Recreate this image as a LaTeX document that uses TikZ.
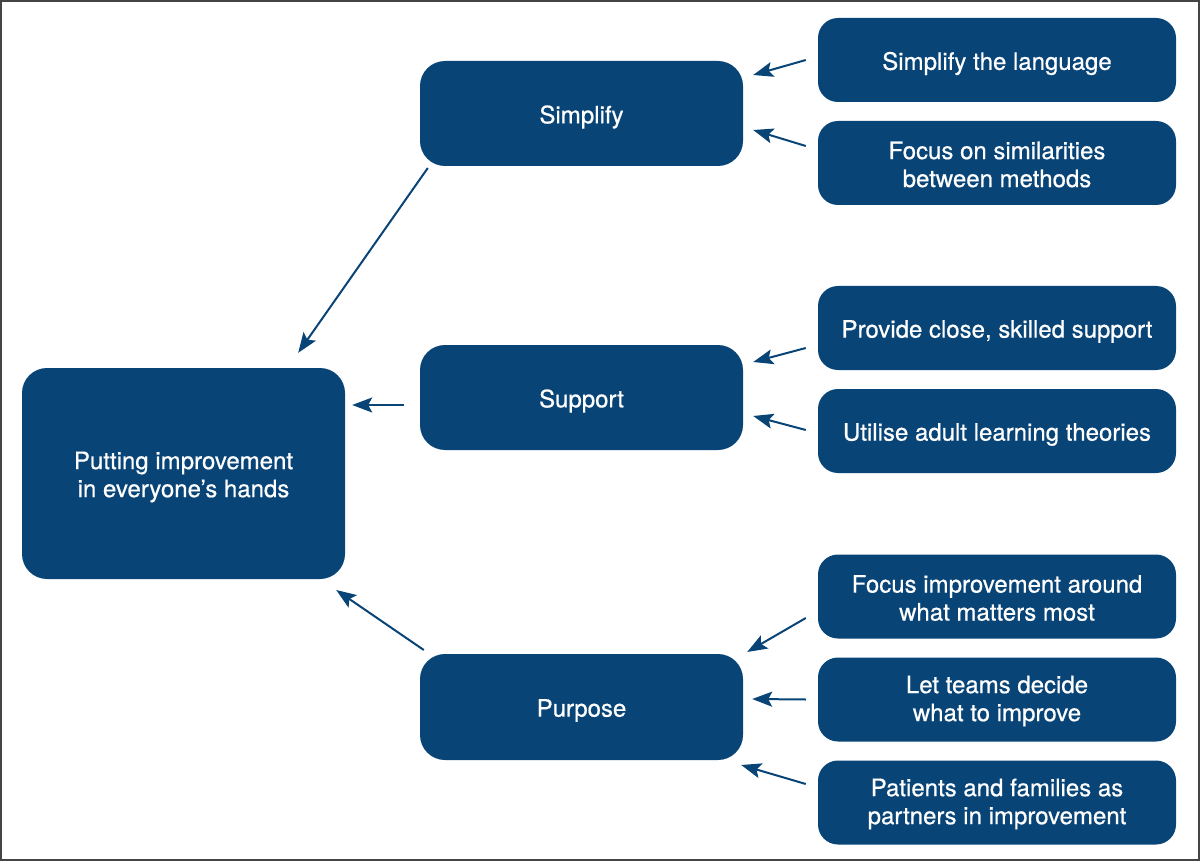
\documentclass[tikz,border=0pt]{standalone}
\usepackage{fontspec}
\setmainfont{TeX Gyre Heros}
\newfontfamily\medfont{TeX Gyre Heros}[FakeBold=0.6]
\usetikzlibrary{arrows.meta,calc}
\definecolor{nhsblue}{HTML}{094477}
\definecolor{framegrey}{HTML}{444444}
\begin{document}
\begin{tikzpicture}[x=1pt,y=-1pt,
  box/.style={fill=nhsblue,rounded corners=25pt,inner sep=0pt,minimum width=323pt},
  rbox/.style={box,rounded corners=20pt,minimum width=358pt,minimum height=84pt},
  lbl/.style={text=white,align=center,font=\medfont\fontsize{24}{28}\selectfont,inner sep=0pt,yshift=-3.5pt},
  lbltwo/.style={lbl,yshift=2pt},
  arr/.style={draw=nhsblue,line width=2pt,-{Stealth[length=20pt,width=15pt,inset=4pt]}}]
\useasboundingbox (0,0) rectangle (1200,861);
\draw[framegrey,line width=2pt] (1,1) rectangle (1199,860);
\node[box,minimum height=211pt,label={[lbl]center:{Putting improvement\\in everyone’s hands}}] (main) at (183.5,473.5) {};
\node[box,minimum height=105pt,label={[lbl]center:Simplify}] (simplify) at (581.5,113.5) {};
\node[box,minimum height=105pt,label={[lbl]center:Support}] (support) at (581.5,397.5) {};
\node[box,minimum height=106pt,label={[lbl]center:Purpose}] (purpose) at (581.5,707) {};
\node[rbox,label={[lbl]center:{Simplify the language}}] (r1) at (997,60) {};
\node[rbox,label={[lbltwo]center:{Focus on similarities\\between methods}}] (r2) at (997,163) {};
\node[rbox,label={[lbl]center:{Provide close, skilled support}}] (r3) at (997,328) {};
\node[rbox,label={[lbl]center:{Utilise adult learning theories}}] (r4) at (997,431) {};
\node[rbox,label={[lbltwo]center:{Focus improvement around\\what matters most}}] (r5) at (997,596.5) {};
\node[rbox,label={[lbltwo]center:{Let teams decide\\what to improve}}] (r6) at (997,699.5) {};
\node[rbox,label={[lbltwo]center:{Patients and families as\\partners in improvement}}] (r7) at (997,802.5) {};
\draw[arr] ($(r1.west)+(-12,0)$) -- ($(simplify.east)+(10,-38.5)$);
\draw[arr] ($(r2.west)+(-12,-17)$) -- ($(simplify.east)+(10,16.5)$);
\draw[arr] ($(r3.west)+(-12,20)$) -- ($(support.east)+(10,-35.5)$);
\draw[arr] ($(r4.west)+(-12,-1)$) -- ($(support.east)+(10,18.5)$);
\draw[arr] ($(r5.west)+(-12,21.5)$) -- ($(purpose.east)+(4,-55)$);
\draw[arr] ($(r6.west)+(-12,0)$) -- ($(purpose.east)+(9,-8)$);
\draw[arr] ($(r7.west)+(-12,-18.5)$) -- ($(purpose.east)+(-2,58)$);
\draw[arr] ($(simplify.west)+(8,54.5)$) -- ($(main.north east)+(-47,-15)$);
\draw[arr] ($(support.west)+(-16,7.5)$) -- ($(main.east)+(7,-68.5)$);
\draw[arr] ($(purpose.west)+(4,-57)$) -- ($(main.east)+(-9,116.5)$);
\end{tikzpicture}
\end{document}
